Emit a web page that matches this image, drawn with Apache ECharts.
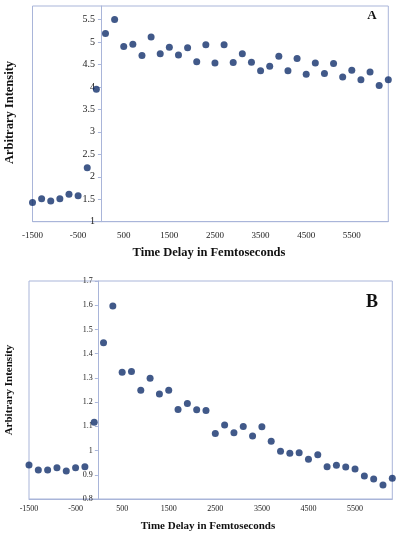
<!DOCTYPE html>
<html><head><meta charset="utf-8">
<script src="https://cdn.jsdelivr.net/npm/echarts@6/dist/echarts.min.js"></script>
<style>html,body{margin:0;padding:0;background:#fff}#c{width:400px;height:537px}</style>
</head><body><div id="c"></div>
<script>
const timesA = [-1500,-1300,-1100,-900,-700,-500,-300,-100,100,300,500,700,900,1100,1300,1500,1700,1900,2100,2300,2500,2700,2900,3100,3300,3500,3700,3900,4100,4300,4500,4700,4900,5100,5300,5500,5700,5900,6100,6300];
const valuesA = [1.43,1.51,1.46,1.51,1.61,1.58,2.2,3.95,5.19,5.5,4.9,4.95,4.70,5.11,4.74,4.88,4.71,4.87,4.56,4.94,4.53,4.94,4.54,4.74,4.55,4.36,4.46,4.68,4.36,4.63,4.28,4.53,4.30,4.52,4.22,4.37,4.16,4.33,4.03,4.16];
const timesB = timesA.slice();
const valuesB = [0.94,0.92,0.92,0.929,0.916,0.929,0.933,1.117,1.445,1.597,1.323,1.326,1.249,1.299,1.234,1.249,1.169,1.194,1.168,1.165,1.07,1.106,1.074,1.099,1.06,1.098,1.038,0.997,0.989,0.991,0.964,0.983,0.933,0.939,0.932,0.924,0.895,0.883,0.858,0.886];
const xTickLabels = ['-1500','-500','500','1500','2500','3500','4500','5500'];
const xTitle = 'Time Delay in Femtoseconds';
const yTitle = 'Arbitrary Intensity';

const frame = '#a9b5d9';
const dot = '#12306c';
const serif = '"Liberation Serif","Times New Roman",serif';
const X_MIN = -1500, X_MAX = 6300;

const gridA = {left:32.5, top:6, right:11.7, bottom:315.3};
const gridB = {left:29, top:281, right:7.7, bottom:38};
function zeroOffset(g){
  const w = 400 - g.left - g.right;
  return -((0 - X_MIN) / (X_MAX - X_MIN)) * w;
}

function xAxis(gi, fs, margin){
  return {type:'value', gridIndex:gi, min:X_MIN, max:X_MAX, interval:1000,
    axisLine:{show:true, onZero:false, lineStyle:{color:frame}}, axisTick:{show:false},
    splitLine:{show:false},
    axisLabel:{fontFamily:serif, fontSize:fs, color:'#222', margin:margin, showMaxLabel:false,
      formatter:v=>xTickLabels.includes(String(v))?String(v):''}};
}
function yAxis(gi, min, max, interval, fs, margin, offset, showMax){
  return {type:'value', gridIndex:gi, min:min, max:max, interval:interval, position:'left', offset:offset,
    axisLine:{show:true, onZero:false, lineStyle:{color:frame}},
    axisTick:{show:true, length:3, lineStyle:{color:frame}},
    splitLine:{show:false},
    axisLabel:{fontFamily:serif, fontSize:fs, color:'#222', margin:margin, showMaxLabel:showMax}};
}

const chart = echarts.init(document.getElementById('c'), null, {renderer:'canvas'});
chart.setOption({
  animation:false,
  grid:[
    Object.assign({show:true, borderColor:frame, borderWidth:1, backgroundColor:'#fff'}, gridA),
    Object.assign({show:true, borderColor:frame, borderWidth:1, backgroundColor:'#fff'}, gridB)
  ],
  xAxis:[xAxis(0,9,9), xAxis(1,8,6)],
  yAxis:[yAxis(0,1,5.8,0.5,10,6,zeroOffset(gridA),false), yAxis(1,0.8,1.7,0.1,8,5,zeroOffset(gridB)+1,true)],
  series:[
    {type:'scatter', xAxisIndex:0, yAxisIndex:0, symbolSize:7, itemStyle:{color:dot},
     data:timesA.map((t,i)=>[t,valuesA[i]])},
    {type:'scatter', xAxisIndex:1, yAxisIndex:1, symbolSize:7, itemStyle:{color:dot},
     data:timesB.map((t,i)=>[t,valuesB[i]])}
  ],
  graphic:[
    {type:'text', x:209, y:253, style:{text:xTitle, font:'bold 12.5px '+serif, fill:'#111', textAlign:'center', textVerticalAlign:'middle'}},
    {type:'text', x:10, y:112.5, rotation:Math.PI/2, style:{text:yTitle, font:'bold 12.5px '+serif, fill:'#111', textAlign:'center', textVerticalAlign:'middle'}},
    {type:'text', x:372, y:16, style:{text:'A', font:'bold 13px '+serif, fill:'#111', textAlign:'center', textVerticalAlign:'middle'}},
    {type:'text', x:208, y:525.7, style:{text:xTitle, font:'bold 11px '+serif, fill:'#111', textAlign:'center', textVerticalAlign:'middle'}},
    {type:'text', x:9.5, y:390, rotation:Math.PI/2, style:{text:yTitle, font:'bold 11px '+serif, fill:'#111', textAlign:'center', textVerticalAlign:'middle'}},
    {type:'text', x:372, y:302, style:{text:'B', font:'bold 18px '+serif, fill:'#111', textAlign:'center', textVerticalAlign:'middle'}}
  ]
});
</script></body></html>
